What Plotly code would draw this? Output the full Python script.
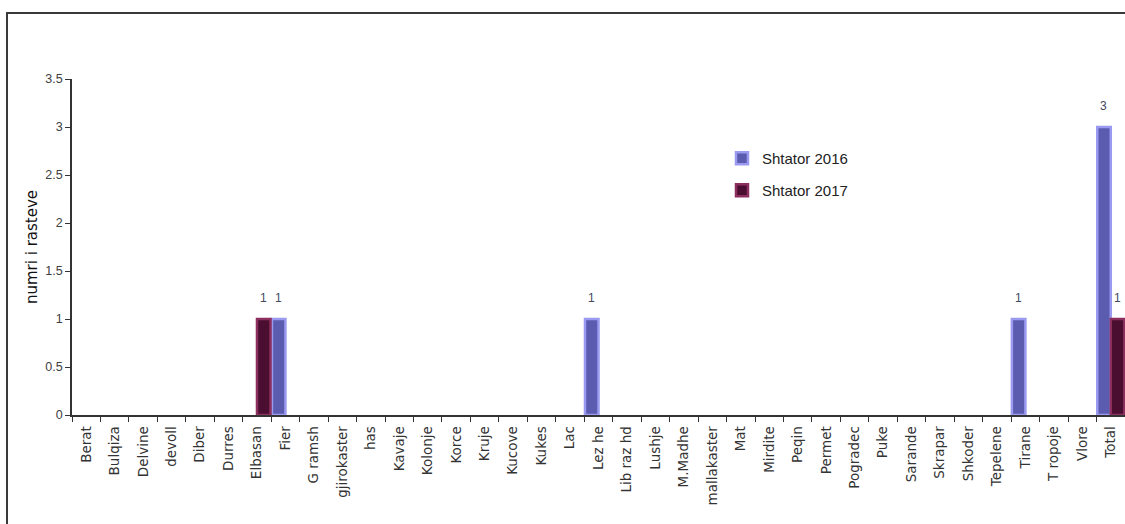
import plotly.graph_objects as go

categories = ["Berat", "Bulqiza", "Delvine", "devoll", "Diber", "Durres", "Elbasan", "Fier",
              "G ramsh", "gjirokaster", "has", "Kavaje", "Kolonje", "Korce", "Kruje", "Kucove",
              "Kukes", "Lac", "Lez he", "Lib raz hd", "Lushje", "M.Madhe", "mallakaster", "Mat",
              "Mirdite", "Peqin", "Permet", "Pogradec", "Puke", "Sarande", "Skrapar", "Shkoder",
              "Tepelene", "Tirane", "T ropoje", "Vlore", "Total"]
shtator_2016 = [0, 0, 0, 0, 0, 0, 0, 1, 0, 0, 0, 0, 0, 0, 0, 0, 0, 0, 1, 0, 0, 0, 0, 0,
                0, 0, 0, 0, 0, 0, 0, 0, 0, 1, 0, 0, 3]
shtator_2017 = [0, 0, 0, 0, 0, 0, 1, 0, 0, 0, 0, 0, 0, 0, 0, 0, 0, 0, 0, 0, 0, 0, 0, 0,
                0, 0, 0, 0, 0, 0, 0, 0, 0, 0, 0, 0, 1]
series_names = ["Shtator 2016", "Shtator 2017"]
y_ticks = [0, 0.5, 1, 1.5, 2, 2.5, 3, 3.5]
y_tick_labels = ["0", "0.5", "1", "1.5", "2", "2.5", "3", "3.5"]

FONT = "Liberation Sans, Arial"
WIDE = "DejaVu Sans"
col16, line16 = "#5b5bb0", "#9a9af0"
col17, line17 = "#4a0f30", "#8c2f5e"

def nz(vals):
    # zero-height bars are not drawn in the original
    return [v if v else None for v in vals]

fig = go.Figure()
fig.add_trace(go.Bar(x=categories, y=nz(shtator_2016), name=series_names[0],
                     marker=dict(color=col16, line=dict(color=line16, width=2.5)),
                     showlegend=True, legend="legend"))
fig.add_trace(go.Bar(x=categories, y=nz(shtator_2017), name=series_names[1],
                     marker=dict(color=col17, line=dict(color=line17, width=2.5)),
                     showlegend=True, legend="legend2"))

annotations = []
for vals, shift in ((shtator_2016, -7), (shtator_2017, 7)):
    for c, v in zip(categories, vals):
        if v:
            annotations.append(dict(x=c, y=v, xref="x", yref="y", text=str(v), showarrow=False,
                                    xshift=shift, yshift=21,
                                    font=dict(family=FONT, size=12, color="#404860")))

L, R, T, B = 72, 1125, 79, 415
def px_x(p):
    return (p - L) / (R - L)
def px_y(p):
    return (B - p) / (B - T)

# outer chart border (cropped at right/bottom)
fig.add_shape(type="rect", xref="paper", yref="paper",
              x0=px_x(7), x1=px_x(1140), y0=px_y(13), y1=px_y(540),
              line=dict(color="#3a3a3a", width=2))

legend_style = dict(xanchor="left", yanchor="top", bgcolor="rgba(0,0,0,0)",
                    font=dict(family=FONT, size=15, color="#222222"))
fig.update_layout(
    width=1125, height=524,
    margin=dict(l=L, r=1125 - R, t=T, b=524 - B),
    paper_bgcolor="white", plot_bgcolor="white",
    barmode="group", bargap=0.05, bargroupgap=0,
    showlegend=True,
    font=dict(family=FONT, size=12, color="#333333"),
    annotations=annotations,
    legend=dict(x=px_x(722), y=px_y(142), **legend_style),
    legend2=dict(x=px_x(722), y=px_y(174), **legend_style),
    xaxis=dict(type="category", showline=True, linecolor="#333333", linewidth=1.5,
               ticks="outside", tickson="boundaries", ticklen=5, tickcolor="#333333",
               ticklabelstandoff=4,
               tickangle=-90, tickfont=dict(family=WIDE, size=13.5, color="#333333"),
               showgrid=False, zeroline=False, range=[-0.5, 36.5]),
    yaxis=dict(range=[0, 3.5], tickvals=y_ticks, ticktext=y_tick_labels,
               showline=True, linecolor="#333333", linewidth=1.5,
               ticks="outside", ticklen=5, tickcolor="#333333",
               tickfont=dict(family=FONT, size=12.5, color="#404040"),
               showgrid=False, zeroline=False,
               title=dict(text="numri i rasteve", standoff=4,
                          font=dict(family=WIDE, size=15, color="#111111"))),
)

fig.write_html("out.html")
